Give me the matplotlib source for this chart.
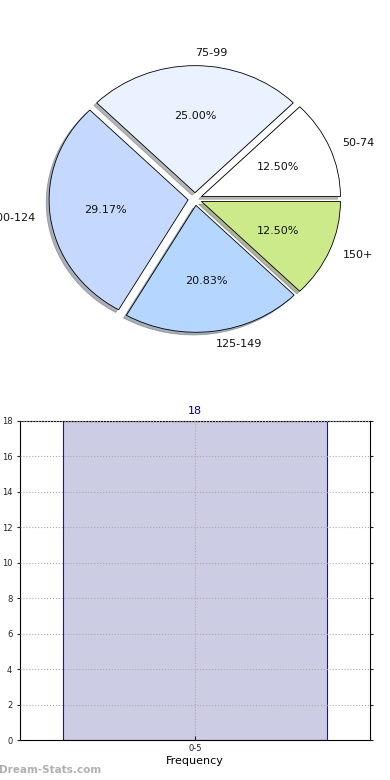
import matplotlib
matplotlib.use("Agg")
import matplotlib.pyplot as plt

# Pie data
pie_labels = ["50-74", "75-99", "100-124", "125-149", "150+"]
pie_values = [3, 6, 7, 5, 3]
pie_colors = ["#ffffff", "#eaf2ff", "#c5d9ff", "#b5d6ff", "#cdea8a"]

# Bar data
bar_categories = ["0-5"]
bar_values = [18]
y_ticks = [0, 2, 4, 6, 8, 10, 12, 14, 16, 18]

fig = plt.figure(figsize=(3.9, 7.8), dpi=100)

# ---- pie ----
W, H = 390.0, 780.0
cx, cy = 195.0, 199.0
rx, ry = 139.0, 127.0
lim = 1.2
axp = fig.add_axes([(cx - lim * rx) / W, (H - cy - lim * ry) / H,
                    2 * lim * rx / W, 2 * lim * ry / H])
wedges, texts, autotexts = axp.pie(
    pie_values, labels=pie_labels, colors=pie_colors, autopct="%1.2f%%",
    explode=[0.05] * len(pie_values),
    shadow=dict(ox=-0.015, oy=-0.015, shade=0.55),
    startangle=0, labeldistance=1.1, pctdistance=0.6,
    wedgeprops=dict(edgecolor="black", linewidth=0.6),
    textprops=dict(fontsize=8, color="#111111"))
for w in wedges:
    w.set_clip_on(False)
for t in texts:
    x, y = t.get_position()
    t.set_ha("left" if x > -1e-6 else "right")
axp.set_aspect("auto")
axp.set_xlim(-lim, lim)
axp.set_ylim(-lim, lim)
axp.axis("off")

# ---- bar ----
axb = fig.add_axes([20 / W, (H - 740) / H, 350 / W, 319 / H])
bars = axb.bar(range(len(bar_values)), bar_values, width=0.755,
               color="#ccccE4", edgecolor="#1a1a90", linewidth=0.8, zorder=2)
axb.set_xlim(-0.5, 0.5)
axb.set_ylim(0, 18)
axb.set_yticks(y_ticks)
axb.set_xticks(range(len(bar_categories)))
axb.set_xticklabels(bar_categories)
axb.tick_params(axis="both", labelsize=6, colors="#222222")
axb.tick_params(axis="y", direction="out", length=2, right=True)
axb.tick_params(axis="x", direction="in", length=3, pad=3)
axb.grid(True, linestyle=":", color="#aaaaaa", linewidth=0.8, zorder=3)
axb.set_axisbelow(False)
for s in axb.spines.values():
    s.set_linewidth(0.8)
for i, v in enumerate(bar_values):
    axb.text(i, v + 0.3, str(v), ha="center", va="bottom", fontsize=8,
             color="#000080")
axb.set_xlabel("Frequency", fontsize=8, labelpad=2)
fig.text(-0.045, (H - 582) / H, "Stat Interval", rotation=90, fontsize=8,
         fontweight="bold", ha="center", va="center", color="#222222")

fig.text(-0.003, (H - 770) / H, "Dream-Stats.com", fontsize=7.5,
         fontweight="bold", color="#b0b0b0", ha="left", va="center")

fig.savefig("out.png", dpi=100)
